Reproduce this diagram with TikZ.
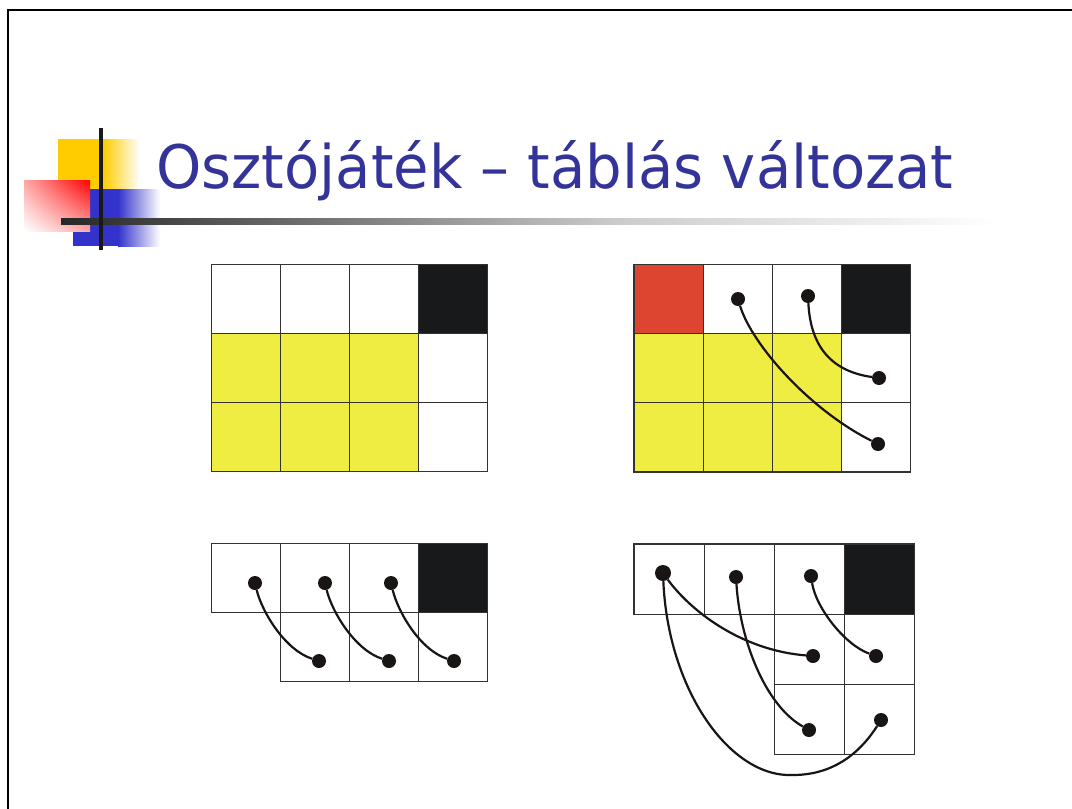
\documentclass[tikz,border=0pt]{standalone}
\usepackage{fontspec}
\usetikzlibrary{shadings}
\newfontfamily\titlefont{DejaVu Sans}
\definecolor{titleblue}{RGB}{51,51,153}
\definecolor{cellyellow}{RGB}{239,236,66}
\definecolor{cellred}{RGB}{221,69,48}
\definecolor{cellblack}{RGB}{24,25,27}
\definecolor{gridline}{RGB}{50,50,50}
\definecolor{decoyellow}{RGB}{255,204,0}
\definecolor{decoblue}{RGB}{51,51,204}
\definecolor{inkdark}{RGB}{26,21,21}
\begin{document}
\begin{tikzpicture}[x=1pt,y=-1pt,
  cellbox/.style={draw=gridline, line width=1.2pt},
  dot/.style={circle, fill=inkdark, inner sep=0pt, minimum size=14pt},
  bigdot/.style={dot, minimum size=16pt},
  link/.style={draw=inkdark, line width=2.2pt}]
\useasboundingbox (0,0) rectangle (1072,809);
\fill[white] (0,0) rectangle (1072,809);
% slide frame
\draw[line width=2pt] (8,809) -- (8,10) -- (1072,10);
% title decoration
\fill[decoyellow] (58,139) rectangle (103,190);
\shade[left color=decoyellow, right color=white] (103,139) rectangle (140,190);
\fill[decoblue] (73,189) rectangle (118,246);
\shade[left color=decoblue, right color=white] (118,189) rectangle (160,246);
\shade[upper right=red, lower left=white, upper left=red!35, lower right=red!35] (24,180) rectangle (90,231);
\shade[left color=black!85, right color=black!20] (61,218.5) rectangle (620,224);
\shade[left color=black!20, right color=white] (620,218.5) rectangle (1000,224);
\fill[black!90] (99.3,128) rectangle (102.8,250);
% title
\node[anchor=base west, inner sep=0pt, text=titleblue] (title) at (156,188)
  {\resizebox{797pt}{48pt}{\titlefont Osztójáték – táblás változat}};
% grid 1 (top left)
\foreach \r/\c/\f in {0/0/white,0/1/white,0/2/white,0/3/cellblack,
  1/0/cellyellow,1/1/cellyellow,1/2/cellyellow,1/3/white,
  2/0/cellyellow,2/1/cellyellow,2/2/cellyellow,2/3/white}
  \filldraw[cellbox, fill=\f] ({211.5+69*\c},{264.5+69*\r}) rectangle ++(69,69);
% grid 2 (top right)
\foreach \r/\c/\f in {0/0/cellred,0/1/white,0/2/white,0/3/cellblack,
  1/0/cellyellow,1/1/cellyellow,1/2/cellyellow,1/3/white,
  2/0/cellyellow,2/1/cellyellow,2/2/cellyellow,2/3/white}
  \filldraw[cellbox, fill=\f] ({634+69.2*\c},{264.3+69.2*\r}) rectangle ++(69.2,69.2);
% grid 3 (bottom left)
\foreach \r/\c/\f in {0/0/white,0/1/white,0/2/white,0/3/cellblack,
  1/1/white,1/2/white,1/3/white}
  \filldraw[cellbox, fill=\f] ({211.5+69*\c},{543.5+69*\r}) rectangle ++(69,69);
% grid 4 (bottom right)
\foreach \r/\c/\f in {0/0/white,0/1/white,0/2/white,0/3/cellblack,
  1/2/white,1/3/white,2/2/white,2/3/white}
  \filldraw[cellbox, fill=\f] ({634+70.2*\c},{544+70.2*\r}) rectangle ++(70.2,70.2);
% dots grid 2
\node[dot] (b1) at (738,299) {};
\node[dot] (b2) at (808,296) {};
\node[dot] (b3) at (879,378) {};
\node[dot] (b4) at (878,444) {};
\draw[link] (b1) .. controls (752,345) and (810,410) .. (b4);
\draw[link] (b2) .. controls (810,335) and (822,370) .. (b3);
% dots grid 3
\node[dot] (c1) at (255,583) {};
\node[dot] (c2) at (325,583) {};
\node[dot] (c3) at (391,583) {};
\node[dot] (c4) at (319,661) {};
\node[dot] (c5) at (389,661) {};
\node[dot] (c6) at (454,661) {};
\draw[link] (c1) .. controls (262,612) and (285,650) .. (c4);
\draw[link] (c2) .. controls (332,612) and (355,650) .. (c5);
\draw[link] (c3) .. controls (398,612) and (420,650) .. (c6);
% dots grid 4
\node[bigdot] (d1) at (663,573) {};
\node[dot] (d2) at (736,577) {};
\node[dot] (d3) at (811,576) {};
\node[dot] (d4) at (813,656) {};
\node[dot] (d5) at (876,656) {};
\node[dot] (d6) at (809,730) {};
\node[dot] (d7) at (881,720) {};
\coordinate (dlow) at (793,775);
\draw[link] (d1) .. controls (690,610) and (740,650) .. (d4);
\draw[link] (d2) .. controls (740,640) and (765,705) .. (d6);
\draw[link] (d3) .. controls (816,608) and (845,645) .. (d5);
\draw[link] (d1) .. controls (668,690) and (730,778) .. (dlow)
  .. controls (840,775) and (865,745) .. (d7);
\end{tikzpicture}
\end{document}
